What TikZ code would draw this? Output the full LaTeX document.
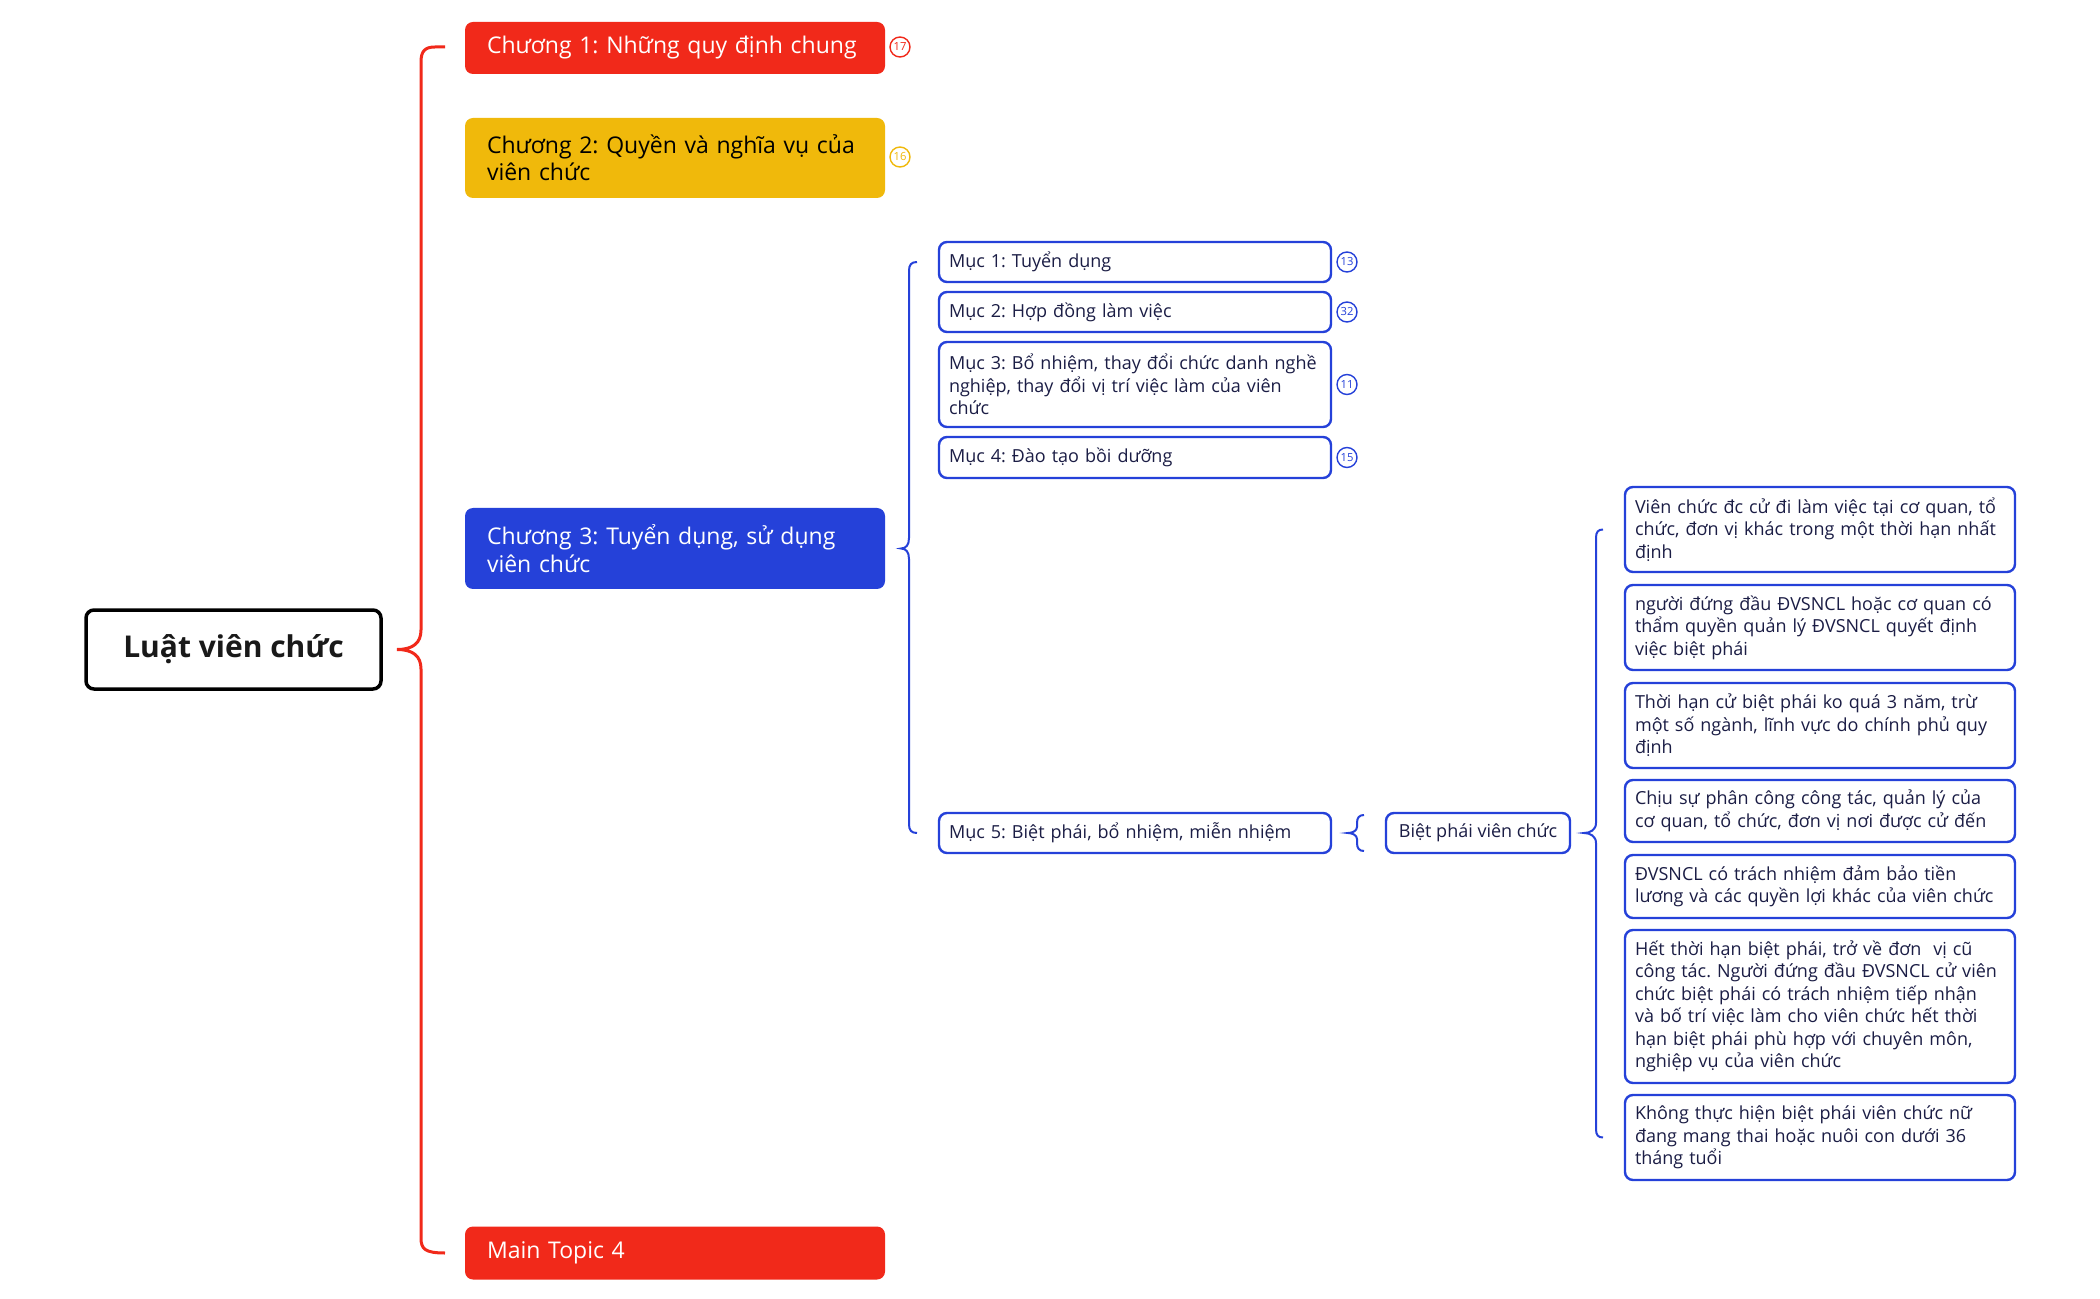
\documentclass[tikz,border=0pt]{standalone}
\usepackage{fontspec}
\setmainfont{Open Sans}
\frenchspacing
\definecolor{cred}{HTML}{F1291A}
\definecolor{cyel}{HTML}{F0B90B}
\definecolor{cblue}{HTML}{2541D9}
\definecolor{cnavy}{HTML}{1B1D45}
\tikzset{
  chap/.style={rounded corners=4pt, minimum width=210pt, text width=188pt, inner xsep=11pt, inner ysep=0pt, align=left, font=\fontsize{11.5}{13.6}\selectfont},
  sub/.style={draw=cblue, line width=1.2pt, rounded corners=4pt, fill=white, inner ysep=0pt, align=left, text=cnavy, font=\fontsize{9}{11.25}\selectfont},
  mucbox/.style={sub, minimum width=196pt, text width=186pt, inner xsep=5pt},
  rbox/.style={sub, minimum width=195pt, text width=185pt, inner xsep=5pt},
  cnt/.style={circle, draw, line width=0.7pt, inner sep=0pt, minimum size=10pt, font=\fontsize{5.6}{6}\selectfont},
  redbr/.style={draw=cred, line width=1.5pt},
  bluebr/.style={draw=cblue, line width=1pt},
}
\begin{document}
\begin{tikzpicture}[x=0.5pt, y=-0.5pt]
\useasboundingbox[fill=white] (0,0) rectangle (2100,1299);
% root
\node[draw=black, line width=1.75pt, rounded corners=4pt, minimum width=147.5pt, minimum height=39.5pt, font=\bfseries\fontsize{15}{18}\selectfont, text=black!90] (root) at (233.5,649.5) {Luật viên chức};
% chapters
\node[chap, fill=cred, text=white, minimum height=26pt] (ch1) at (675,48) {Chương 1: Những quy định chung};
\node[chap, fill=cyel, text=black, minimum height=40pt] (ch2) at (675,158) {Chương 2: Quyền và nghĩa vụ của\\viên chức};
\node[chap, fill=cblue, text=white, minimum height=40.5pt] (ch3) at (675,548.5) {Chương 3: Tuyển dụng, sử dụng\\viên chức};
\node[chap, fill=cred, text=white, minimum height=26.5pt] (mt4) at (675,1253) {Main Topic 4};
\node[cnt, draw=cred, text=cred] (n17) at (900,47) {17};
\node[cnt, draw=cyel, text=cyel] (n16) at (900,157) {16};
% sections
\node[mucbox, minimum height=20pt] (m1) at (1135,262) {Mục 1: Tuyển dụng};
\node[mucbox, minimum height=20pt] (m2) at (1135,312) {Mục 2: Hợp đồng làm việc};
\node[mucbox, minimum height=42.5pt] (m3) at (1135,384.5) {Mục 3: Bổ nhiệm, thay đổi chức danh nghề\\nghiệp, thay đổi vị trí việc làm của viên\\chức};
\node[mucbox, minimum height=20.5pt] (m4) at (1135,457.5) {Mục 4: Đào tạo bồi dưỡng};
\node[mucbox, minimum height=20pt] (m5) at (1135,833) {Mục 5: Biệt phái, bổ nhiệm, miễn nhiệm};
\node[cnt, draw=cblue, text=cblue] (c13) at (1347,262) {13};
\node[cnt, draw=cblue, text=cblue] (c32) at (1347,312) {32};
\node[cnt, draw=cblue, text=cblue] (c11) at (1347,384.5) {11};
\node[cnt, draw=cblue, text=cblue] (c15) at (1347,457.5) {15};
% biet phai
\node[sub, minimum width=92pt, minimum height=20pt, inner xsep=4pt, align=center] (bp) at (1478,833) {Biệt phái viên chức};
% right boxes
\node[rbox, minimum height=42.5pt] (ra) at (1820,529.5) {Viên chức đc cử đi làm việc tại cơ quan, tổ\\chức, đơn vị khác trong một thời hạn nhất\\định};
\node[rbox, minimum height=42.5pt] (rb) at (1820,627.5) {người đứng đầu ĐVSNCL hoặc cơ quan có\\thẩm quyền quản lý ĐVSNCL quyết định\\việc biệt phái};
\node[rbox, minimum height=42.5pt] (rc) at (1820,725.5) {Thời hạn cử biệt phái ko quá 3 năm, trừ\\một số ngành, lĩnh vực do chính phủ quy\\định};
\node[rbox, minimum height=31pt] (rd) at (1820,811) {Chịu sự phân công công tác, quản lý của\\cơ quan, tổ chức, đơn vị nơi được cử đến};
\node[rbox, minimum height=31.5pt] (re) at (1820,886.5) {ĐVSNCL có trách nhiệm đảm bảo tiền\\lương và các quyền lợi khác của viên chức};
\node[rbox, minimum height=76.5pt] (rf) at (1820,1006.5) {Hết thời hạn biệt phái, trở về đơn\ \ vị cũ\\công tác. Người đứng đầu ĐVSNCL cử viên\\chức biệt phái có trách nhiệm tiếp nhận\\và bố trí việc làm cho viên chức hết thời\\hạn biệt phái phù hợp với chuyên môn,\\nghiệp vụ của viên chức};
\node[rbox, minimum height=42.5pt] (rg) at (1820,1137.5) {Không thực hiện biệt phái viên chức nữ\\đang mang thai hoặc nuôi con dưới 36\\tháng tuổi};
% brace coordinates
\coordinate (rcusp) at (397,649.5);
\coordinate (rtop) at (445,47);
\coordinate (rbot) at (445,1253);
\coordinate (bcusp) at (901,548.5);
\coordinate (btop) at (917,262);
\coordinate (bbot) at (917,833);
\coordinate (scusp) at (1348,833);
\coordinate (stop) at (1364,815);
\coordinate (sbot) at (1364,851);
\coordinate (qcusp) at (1584,833);
\coordinate (qtop) at (1603,529.5);
\coordinate (qbot) at (1603,1137.5);
% red brace
\draw[redbr] (rtop) -- (435,47) .. controls (425,47) and (421,51) .. (421,62) -- (421,630) .. controls (421,643) and (413,649.5) .. (rcusp) .. controls (413,649.5) and (421,656) .. (421,669) -- (421,1238) .. controls (421,1249) and (425,1253) .. (rbot);
% blue brace chapter 3
\draw[bluebr] (btop) .. controls (911,262) and (909,265) .. (909,271) -- (909,538) .. controls (909,545) and (906,548.5) .. (bcusp) .. controls (906,548.5) and (909,552) .. (909,559) -- (909,824) .. controls (909,830) and (911,833) .. (bbot);
% small brace
\draw[bluebr] (stop) .. controls (1359,815) and (1357,818) .. (1357,823) -- (1357,827) .. controls (1357,831) and (1352,833) .. (scusp) .. controls (1352,833) and (1357,835) .. (1357,839) -- (1357,843) .. controls (1357,848) and (1359,851) .. (sbot);
% right brace
\draw[bluebr] (qtop) .. controls (1598,529.5) and (1596,532) .. (1596,538) -- (1596,823) .. controls (1596,830) and (1590,833) .. (qcusp) .. controls (1590,833) and (1596,836) .. (1596,843) -- (1596,1129) .. controls (1596,1135) and (1598,1137.5) .. (qbot);
\end{tikzpicture}
\end{document}
